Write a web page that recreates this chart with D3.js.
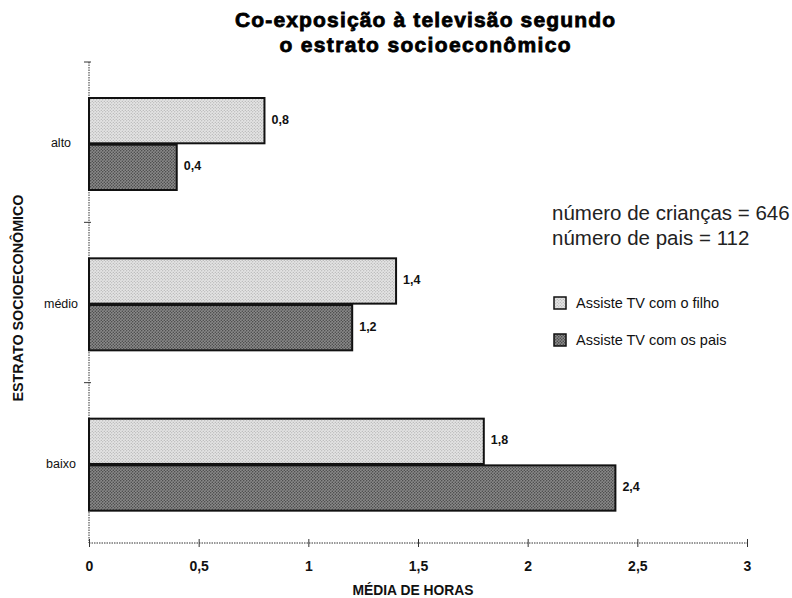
<!DOCTYPE html>
<html>
<head>
<meta charset="utf-8">
<script src="https://cdn.jsdelivr.net/npm/d3@7"></script>
<style>
  html, body { margin: 0; padding: 0; background: #fff; }
  svg { display: block; }
  .narrow { font-family: "Liberation Sans", Arial, sans-serif; font-weight: bold; }
</style>
</head>
<body>
<svg id="chart" width="792" height="598"></svg>
<script>
// Average hours of co-viewing, by socio-economic stratum
const strata = ["alto", "médio", "baixo"];
const seriesNames = ["Assiste TV com o filho", "Assiste TV com os pais"];
const withChild = [0.8, 1.4, 1.8];
const withParents = [0.4, 1.2, 2.4];
const valueLabels = [["0,8", "1,4", "1,8"], ["0,4", "1,2", "2,4"]];
const xTicks = [0, 0.5, 1, 1.5, 2, 2.5, 3];
const xTickLabels = ["0", "0,5", "1", "1,5", "2", "2,5", "3"];
const notes = ["número de crianças = 646", "número de pais = 112"];
const titleLines = ["Co-exposição à televisão segundo", "o estrato socioeconômico"];

const svg = d3.select("#chart");
const plot = { left: 89, right: 747, top: 62, bottom: 543 };

const x = d3.scaleLinear().domain([0, 3]).range([plot.left, plot.right]);
const y = d3.scaleBand().domain(strata).range([plot.top, plot.bottom]);
// the two bars sit slightly above the middle of each band
const inner = d3.scaleBand().domain([0, 1]).range([36, 128]).paddingInner(0.03);

// Stippled fills
const defs = svg.append("defs");
function stipple(id, base, dot, step, r) {
  const p = defs.append("pattern").attr("id", id).attr("patternUnits", "userSpaceOnUse")
    .attr("width", step).attr("height", step);
  p.append("rect").attr("width", step).attr("height", step).attr("fill", base);
  p.append("circle").attr("cx", step / 4).attr("cy", step / 4).attr("r", r).attr("fill", dot);
  p.append("circle").attr("cx", 3 * step / 4).attr("cy", 3 * step / 4).attr("r", r).attr("fill", dot);
}
stipple("light", "#e4e4e4", "#a0a0a0", 3, 0.55);
stipple("dark", "#8a8a8a", "#3e3e3e", 3, 0.7);
const fills = ["url(#light)", "url(#dark)"];

// Title (wide, heavy face)
const titleWidths = [380, 291];
svg.append("text")
  .attr("text-anchor", "middle")
  .style("font-family", "'Liberation Sans', Arial, sans-serif")
  .style("font-weight", "bold").style("font-size", "21px")
  .attr("stroke", "#000").attr("stroke-width", 0.8)
  .selectAll("tspan").data(titleLines)
  .join("tspan").attr("x", 425).attr("y", (d, i) => 27 + i * 25)
  .attr("textLength", (d, i) => titleWidths[i]).attr("lengthAdjust", "spacing")
  .text(d => d);

// Axes (dotted, as in a printed chart)
const xAxis = d3.axisBottom(x).tickValues(xTicks).tickFormat((d, i) => xTickLabels[i])
  .tickSize(5).tickSizeOuter(0);
const gx = svg.append("g").attr("transform", `translate(0,${plot.bottom})`).call(xAxis);
gx.select(".domain").attr("stroke", "#333").attr("stroke-dasharray", "1.5,1").attr("d", `M${plot.left},0H${plot.right}`);
gx.selectAll(".tick line").attr("y1", -4).attr("y2", 4).attr("stroke", "#333");
gx.selectAll(".tick text").attr("class", "narrow").attr("dy", 0).attr("y", 28)
  .style("font-size", "14px").attr("fill", "#111");

const yTickPos = [plot.top, plot.top + y.step(), plot.top + 2 * y.step()];
svg.append("line").attr("x1", plot.left).attr("x2", plot.left)
  .attr("y1", plot.top).attr("y2", plot.bottom)
  .attr("stroke", "#333").attr("stroke-dasharray", "1.5,1");
svg.selectAll(".ytick").data(yTickPos).join("line")
  .attr("x1", plot.left - 5).attr("x2", plot.left + 2)
  .attr("y1", d => d).attr("y2", d => d).attr("stroke", "#333");

svg.selectAll(".cat").data(strata).join("text")
  .attr("x", 61).attr("y", d => y(d) + y.bandwidth() / 2 + 5)
  .attr("text-anchor", "middle")
  .style("font-family", "'Liberation Sans', Arial, sans-serif").style("font-size", "12.5px")
  .attr("fill", "#111").text(d => d);

// Bars
const series = [withChild, withParents];
series.forEach((vals, s) => {
  const g = svg.append("g");
  g.selectAll("rect").data(vals).join("rect")
    .attr("x", x(0))
    .attr("y", (d, i) => y(strata[i]) + inner(s))
    .attr("width", d => x(d) - x(0))
    .attr("height", inner.bandwidth())
    .attr("fill", fills[s]).attr("stroke", "#111").attr("stroke-width", 2);
  g.selectAll("text").data(vals).join("text")
    .attr("class", "narrow")
    .attr("x", d => x(d) + 7)
    .attr("y", (d, i) => y(strata[i]) + inner(s) + inner.bandwidth() / 2 + 3)
    .style("font-size", "12.5px").attr("fill", "#111")
    .text((d, i) => valueLabels[s][i]);
});

// Axis titles
svg.append("text").attr("class", "narrow")
  .attr("transform", `translate(23,298) rotate(-90)`)
  .attr("text-anchor", "middle").style("font-size", "14px").attr("fill", "#111")
  .attr("textLength", 207).attr("lengthAdjust", "spacingAndGlyphs")
  .text("ESTRATO SOCIOECONÔMICO");
svg.append("text").attr("class", "narrow")
  .attr("x", 413).attr("y", 595).attr("text-anchor", "middle")
  .style("font-size", "15px").attr("fill", "#111")
  .attr("textLength", 121).attr("lengthAdjust", "spacingAndGlyphs")
  .text("MÉDIA DE HORAS");

// Sample sizes
svg.selectAll(".note").data(notes).join("text")
  .attr("x", 552).attr("y", (d, i) => 220 + i * 25)
  .style("font-family", "'Liberation Sans', Arial, sans-serif").style("font-size", "20.5px")
  .attr("fill", "#222").text(d => d);

// Legend
const leg = svg.append("g");
seriesNames.forEach((name, i) => {
  const yy = 297 + i * 37;
  leg.append("rect").attr("x", 554).attr("y", yy).attr("width", 12).attr("height", 12)
    .attr("fill", fills[i]).attr("stroke", "#111").attr("stroke-width", 1.5);
  leg.append("text").attr("x", 576).attr("y", yy + 11)
    .style("font-family", "'Liberation Sans', Arial, sans-serif").style("font-size", "14.5px")
    .attr("fill", "#111").text(name);
});
</script>
</body>
</html>
